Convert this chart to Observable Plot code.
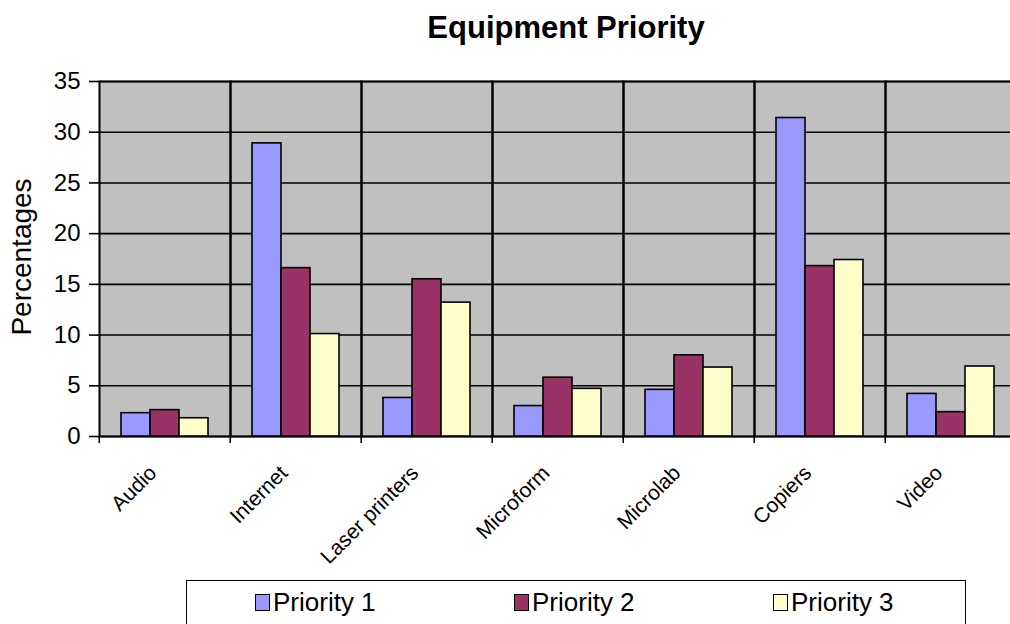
<!DOCTYPE html>
<html>
<head>
<meta charset="utf-8">
<script src="https://cdn.jsdelivr.net/npm/d3@7"></script>
<script src="https://cdn.jsdelivr.net/npm/@observablehq/plot@0.6"></script>
<style>
  html, body { margin: 0; padding: 0; background: #fff; overflow: hidden; }
  #page { position: relative; width: 1010px; height: 624px; overflow: hidden;
          font-family: "Liberation Sans", Arial, sans-serif; color: #000; }
  #title { position: absolute; left: 0; width: 1132px; top: 10px; text-align: center;
           font-weight: bold; font-size: 31px; line-height: 36px; }
  #ylabel { position: absolute; left: 22px; top: 257px; font-size: 28px; white-space: nowrap;
            transform: translate(-50%, -50%) rotate(-90deg); }
  #chart { position: absolute; left: 0; top: 0; }
  #chart svg { max-width: none !important; }
  #legend { position: absolute; left: 186px; top: 580px; width: 780px; height: 70px;
            box-sizing: border-box; border: 1.5px solid #000; background: #fff;
            display: grid; grid-template-columns: 259px 259px 259px; padding-left: 68px; }
  .item { display: flex; align-items: center; height: 42px; font-size: 26px; }
  .swatch { width: 13px; height: 15px; border: 1.5px solid #000; margin-right: 3px; box-sizing: content-box; }
</style>
</head>
<body>
<div id="page">
  <div id="chart"></div>
  <div id="title">Equipment Priority</div>
  <div id="ylabel">Percentages</div>
  <div id="legend"></div>
</div>
<script>
// Equipment types surveyed and the share (%) of respondents ranking each at each priority
const categories = ["Audio", "Internet", "Laser printers", "Microform", "Microlab", "Copiers", "Video"];
const series = ["Priority 1", "Priority 2", "Priority 3"];
const priority1 = [2.3, 28.9, 3.8, 3.0, 4.6, 31.4, 4.2];
const priority2 = [2.6, 16.6, 15.5, 5.8, 8.0, 16.8, 2.4];
const priority3 = [1.8, 10.1, 13.2, 4.7, 6.8, 17.4, 6.9];
const colors = ["#9999FF", "#993366", "#FFFFCC"];
const yTicks = [0, 5, 10, 15, 20, 25, 30, 35];

// long-format table: one row per (category, series)
const valuesBySeries = [priority1, priority2, priority3];
const rows = categories.flatMap((c, i) =>
  series.map((s, j) => ({category: c, series: s, value: valuesBySeries[j][i]}))
);

const W = 1020, ML = 97, MR = 2;
const facetStep = (W - ML - MR) / categories.length;

const chart = Plot.plot({
  width: W,
  height: 580,
  marginTop: 81,
  marginBottom: 144,
  marginLeft: ML,
  marginRight: MR,
  facet: {marginTop: 0, marginBottom: 0, marginLeft: 0, marginRight: 0},
  style: {fontFamily: "'Liberation Sans', Arial, sans-serif", fontSize: "24px", color: "#000", background: "transparent", overflow: "visible"},
  fx: {domain: categories, padding: 0, label: null},
  x: {domain: series, paddingInner: 0, paddingOuter: 0.75, axis: null},
  y: {domain: [0, 35], label: null},
  color: {domain: series, range: colors},
  marks: [
    Plot.frame({fill: "#c0c0c0"}),
    Plot.gridY(yTicks, {stroke: "#000", strokeOpacity: 1, strokeWidth: 1.6}),
    Plot.frame({stroke: "#000", strokeWidth: 2}),
    Plot.barY(rows, {fx: "category", x: "series", y: "value", fill: "series", stroke: "#000", strokeWidth: 1.6}),
    Plot.axisY(yTicks, {tickSize: 10, tickPadding: 9, fontSize: 24, strokeWidth: 1.6, label: null}),
    // boundary ticks between categories
    Plot.axisFx({anchor: "bottom", tickSize: 7, strokeWidth: 1.6, tickFormat: () => "", dx: -facetStep / 2, label: null}),
    // category names
    Plot.axisFx({anchor: "bottom", tickSize: 0, tickPadding: 33, tickRotate: -45, fontSize: 21, dx: -12, label: null})
  ]
});
document.getElementById("chart").append(chart);

// legend below the plot
const legend = d3.select("#legend");
series.forEach((s, j) => {
  const item = legend.append("div").attr("class", "item");
  item.append("div").attr("class", "swatch").style("background", colors[j]);
  item.append("span").text(s);
});
</script>
</body>
</html>
